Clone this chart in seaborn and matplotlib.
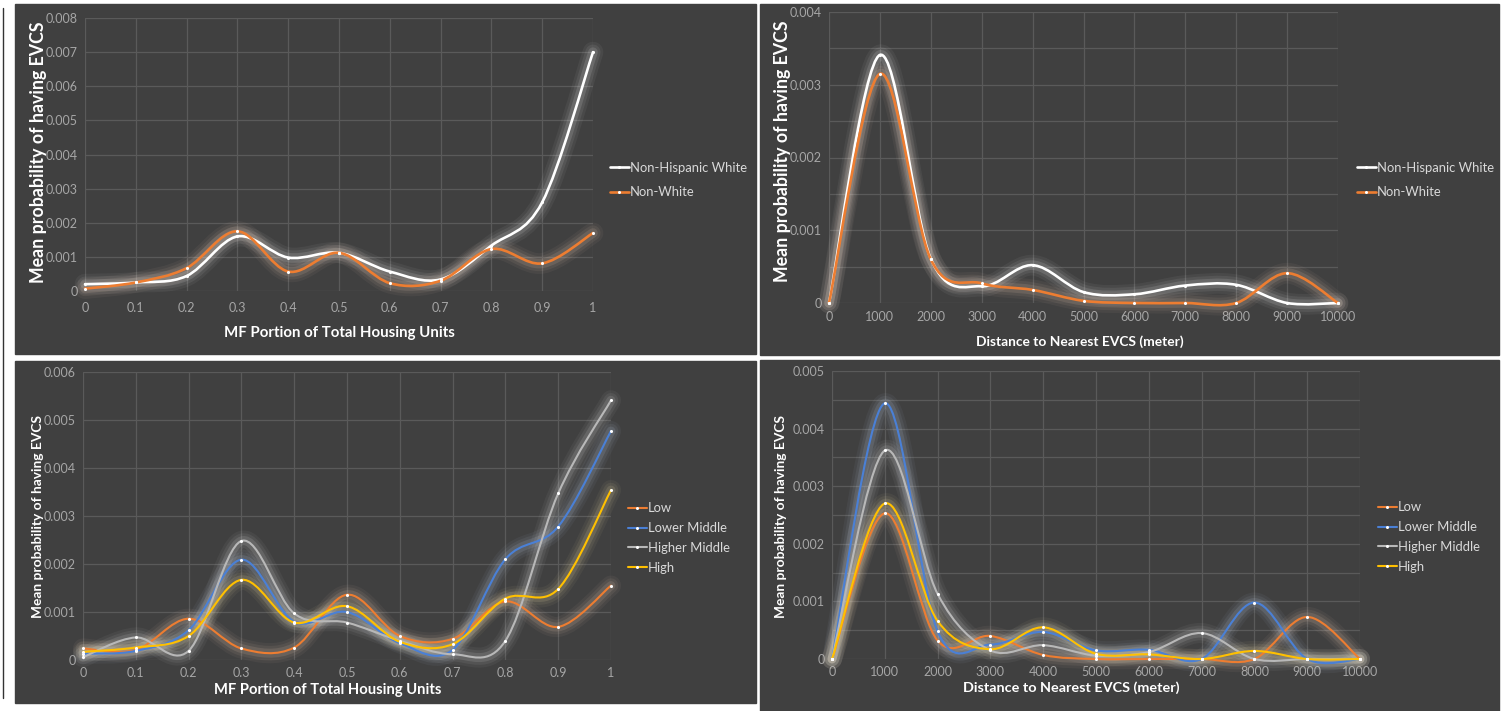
import numpy as np
import matplotlib
matplotlib.use("Agg")
import matplotlib.pyplot as plt
import seaborn as sns
from matplotlib.path import Path
from matplotlib.patches import PathPatch, Rectangle
from matplotlib.lines import Line2D
from matplotlib.ticker import FuncFormatter, MultipleLocator

# ---- data ----
mf_share = [0, 0.1, 0.2, 0.3, 0.4, 0.5, 0.6, 0.7, 0.8, 0.9, 1]
dist_m = [0, 1000, 2000, 3000, 4000, 5000, 6000, 7000, 8000, 9000, 10000]

race_labels = ["Non-Hispanic White", "Non-White"]
mf_nhw = [0.0002, 0.00025, 0.00044, 0.0016, 0.00098, 0.00112, 0.00057, 0.00034, 0.00133, 0.0026, 0.0070]
mf_nonwhite = [0.00007, 0.00025, 0.00067, 0.00175, 0.00057, 0.00112, 0.00023, 0.0003, 0.00123, 0.00081, 0.0017]
dist_nhw = [0, 0.00341, 0.00061, 0.00023, 0.00052, 0.00015, 0.00012, 0.00024, 0.00025, 0, 0]
dist_nonwhite = [0, 0.00315, 0.0006, 0.00027, 0.00018, 0.00003, 0, 0, 0, 0.00041, 0]

income_labels = ["Low", "Lower Middle", "Higher Middle", "High"]
mf_low = [0.00024, 0.00021, 0.00086, 0.00024, 0.00026, 0.00136, 0.0005, 0.00044, 0.00122, 0.00069, 0.00155]
mf_lower_mid = [0.00013, 0.00019, 0.00062, 0.00209, 0.0008, 0.001, 0.00035, 0.00021, 0.0021, 0.00278, 0.00477]
mf_higher_mid = [0.00006, 0.00047, 0.00019, 0.00248, 0.00097, 0.00078, 0.0004, 0.00012, 0.0004, 0.00347, 0.00541]
mf_high = [0.00017, 0.00026, 0.0005, 0.00167, 0.00078, 0.00112, 0.00038, 0.00033, 0.00128, 0.00148, 0.00354]
dist_low = [0, 0.00253, 0.00032, 0.0004, 0.00007, 0, 0, 0, 0, 0.00073, 0]
dist_lower_mid = [0, 0.00444, 0.00048, 0.00025, 0.00047, 0.00015, 0.00016, 0, 0.00098, 0, 0]
dist_higher_mid = [0, 0.00362, 0.00113, 0.00015, 0.00024, 0.00006, 0.00012, 0.00045, 0, 0, 0]
dist_high = [0, 0.0027, 0.00066, 0.00017, 0.00055, 0.00009, 0.00008, 0, 0.00014, 0, 0]

race_colors = ["#FFFFFF", "#ED7D31"]
income_colors = ["#ED7D31", "#4A80D6", "#B8B8B8", "#FFC000"]

W, H = 1504, 711
BG = "#404040"

sns.set_theme(style="dark", rc={
    "figure.facecolor": "white",
    "axes.facecolor": "none",
    "axes.edgecolor": "none",
})
plt.rcParams["font.family"] = ["Lato", "DejaVu Sans"]


def smooth_path(xs, ys):
    # Excel-style smoothed line: cubic Bezier through every point
    pts = np.column_stack([xs, ys]).astype(float)
    n = len(pts)
    verts = [pts[0]]
    codes = [Path.MOVETO]
    for i in range(n - 1):
        p0 = pts[max(i - 1, 0)]
        p1 = pts[i]
        p2 = pts[i + 1]
        p3 = pts[min(i + 2, n - 1)]
        verts += [p1 + (p2 - p0) / 6, p2 - (p3 - p1) / 6, p2]
        codes += [Path.CURVE4] * 3
    return Path(verts, codes)


def draw_series(ax, xs, ys, color, lw):
    path = smooth_path(xs, ys)
    glow = matplotlib.colors.to_rgb(color)
    glow = tuple(0.3 * c + 0.7 for c in glow)
    for extra, a in [(13, 0.05), (9, 0.07), (5, 0.12)]:
        ax.add_patch(PathPatch(path, fill=False, edgecolor=glow, lw=lw + extra, alpha=a,
                               capstyle="round", joinstyle="round", zorder=2, clip_on=False))
    ax.add_patch(PathPatch(path, fill=False, edgecolor=color, lw=lw,
                           capstyle="round", joinstyle="round", zorder=3, clip_on=False))
    sns.scatterplot(x=xs, y=ys, ax=ax, color="white", s=5, linewidth=0, zorder=4,
                    legend=False, clip_on=False)


def make_axes(fig, left, top, right, bottom):
    return fig.add_axes([left / W, 1 - bottom / H, (right - left) / W, (bottom - top) / H])


def style_axes(ax, xticks, xlim, ymax, ygrid_step, xlabel, xl_size, xl_pos, yl_size, yl_pos, xpad):
    ax.set_xlim(*xlim)
    ax.set_ylim(0, ymax)
    ax.set_xticks(xticks)
    ax.yaxis.set_major_locator(MultipleLocator(0.001))
    ax.yaxis.set_minor_locator(MultipleLocator(ygrid_step))
    fmt = FuncFormatter(lambda v, _: f"{v:g}")
    ax.xaxis.set_major_formatter(fmt)
    ax.yaxis.set_major_formatter(fmt)
    ax.grid(which="both", color="#5A5A5A", lw=0.9)
    ax.tick_params(which="both", length=0, labelcolor="#A6A6A6", labelsize=9)
    ax.tick_params(axis="x", pad=xpad)
    ax.tick_params(axis="y", pad=5)
    ax.set_xlabel(xlabel, color="white", fontweight="bold", fontsize=xl_size, va="center")
    ax.xaxis.set_label_coords(*xl_pos)
    ax.set_ylabel("Mean probability of having EVCS", color="white", fontweight="bold",
                  fontsize=yl_size, va="center", ha="center")
    ax.yaxis.set_label_coords(*yl_pos)


def add_legend(fig, labels, colors, lw, x, y, size, spacing):
    handles = [Line2D([], [], color=c, lw=lw, marker="o", markersize=2.2,
                      markerfacecolor="white", markeredgewidth=0) for c in colors]
    fig.legend(handles, labels, loc="center left", bbox_to_anchor=(x / W, 1 - y / H),
               frameon=False, labelcolor="#D9D9D9", fontsize=size, handlelength=1.45,
               handletextpad=0.1, labelspacing=spacing, borderpad=0, borderaxespad=0)


fig = plt.figure(figsize=(W / 100, H / 100), dpi=100)

# dark panels
for x0, y0, x1, y1 in [(15, 4, 756, 354), (760, 4, 1499, 355),
                       (15, 361, 756, 703), (760, 360, 1499, 711)]:
    fig.add_artist(Rectangle((x0 / W, 1 - y1 / H), (x1 - x0) / W, (y1 - y0) / H,
                             transform=fig.transFigure, color=BG, zorder=-5))
fig.add_artist(Line2D([3 / W, 3 / W], [1 - 8 / H, 1 - 698 / H], color="#333333", lw=1,
                      transform=fig.transFigure))

# top-left: MF share by race
ax1 = make_axes(fig, 85, 18, 593, 291)
for ys, c in zip([mf_nhw, mf_nonwhite], race_colors):
    draw_series(ax1, mf_share, ys, c, 1.9)
style_axes(ax1, mf_share, (0, 1), 0.008, 0.001, "MF Portion of Total Housing Units", 10.8,
           (0.501, -0.154), 12.8, (-0.0925, 0.51), 8)
add_legend(fig, race_labels, race_colors, 1.9, 610, 180, 9.4, 0.95)

# top-right: distance by race
ax2 = make_axes(fig, 829, 12, 1338, 303)
for ys, c in zip([dist_nhw, dist_nonwhite], race_colors):
    draw_series(ax2, dist_m, ys, c, 1.9)
style_axes(ax2, dist_m, (0, 10000), 0.004, 0.0005, "Distance to Nearest EVCS (meter)", 9.9,
           (0.493, -0.134), 12.8, (-0.092, 0.52), 6)
add_legend(fig, race_labels, race_colors, 1.9, 1357, 180, 9.4, 0.95)

# bottom-left: MF share by income
ax3 = make_axes(fig, 83, 372, 611, 660)
for ys, c in zip([mf_low, mf_lower_mid, mf_higher_mid, mf_high], income_colors):
    draw_series(ax3, mf_share, ys, c, 1.5)
style_axes(ax3, mf_share, (0, 1), 0.006, 0.001, "MF Portion of Total Housing Units", 10.6,
           (0.463, -0.104), 9.9, (-0.085, 0.498), 5)
add_legend(fig, income_labels, income_colors, 1.5, 628, 538, 9.4, 0.6)

# bottom-right: distance by income
ax4 = make_axes(fig, 832, 371, 1360, 659)
for ys, c in zip([dist_low, dist_lower_mid, dist_higher_mid, dist_high], income_colors):
    draw_series(ax4, dist_m, ys, c, 1.5)
style_axes(ax4, dist_m, (0, 10000), 0.005, 0.0005, "Distance to Nearest EVCS (meter)", 10.4,
           (0.454, -0.10), 9.9, (-0.097, 0.495), 5)
add_legend(fig, income_labels, income_colors, 1.5, 1378, 537, 9.4, 0.6)

fig.savefig("out.png", dpi=100)
